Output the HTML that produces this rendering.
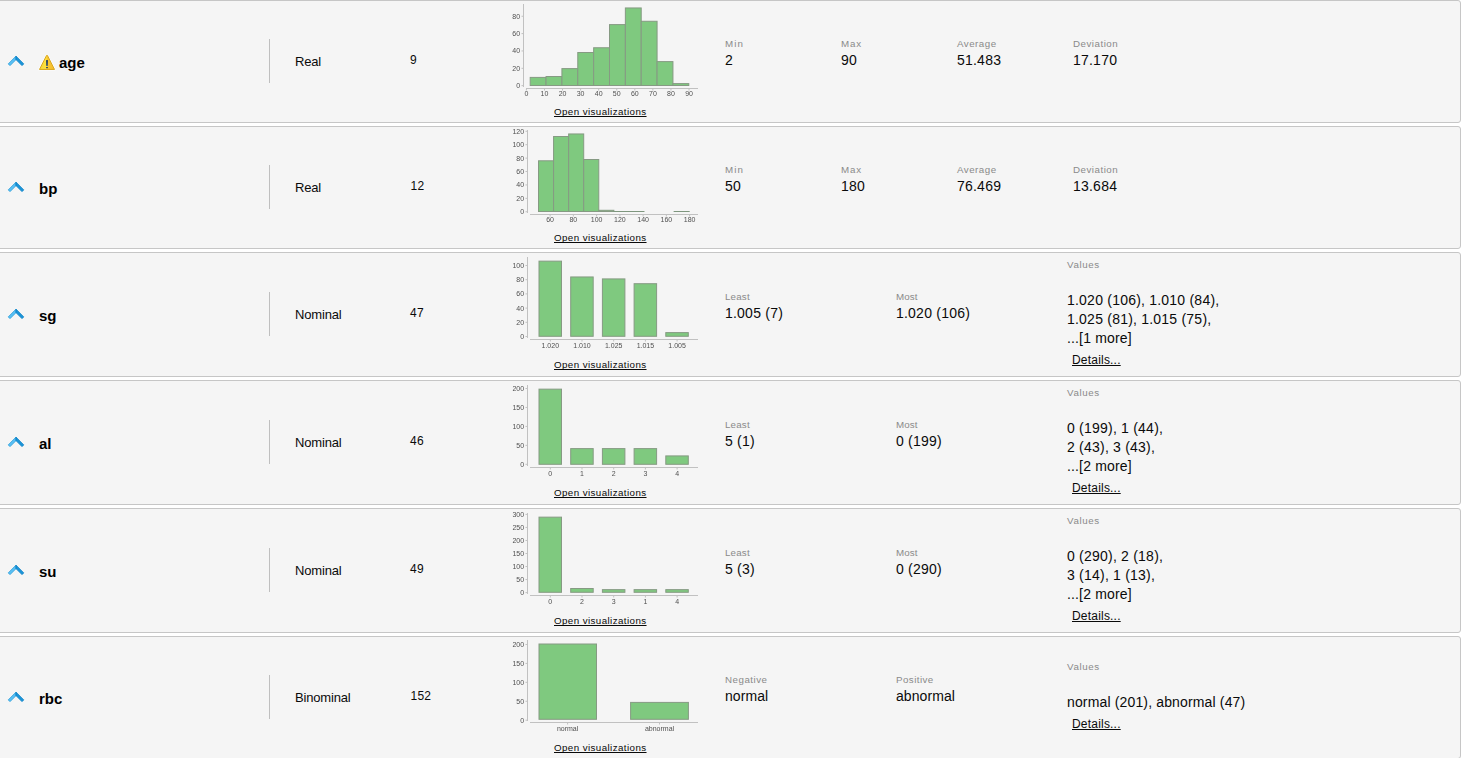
<!DOCTYPE html>
<html><head><meta charset="utf-8"><title>Statistics</title><style>
html,body{margin:0;padding:0;background:#fff;}
body{width:1462px;height:758px;overflow:hidden;position:relative;font-family:"Liberation Sans",sans-serif;}
.row{position:absolute;left:-4px;width:1465px;box-sizing:border-box;background:#f5f5f5;border:1px solid #c6c6c6;border-radius:3px;}
.row>*{margin-left:3px;margin-top:-1px;}
.t{position:absolute;white-space:nowrap;text-decoration-skip-ink:none;}
.ic,.ch{position:absolute;overflow:visible;}

.sep{position:absolute;left:269px;width:1px;height:44px;background:#bfbfbf;}
.tk{font-family:"Liberation Sans",sans-serif;font-size:7px;fill:#505050;}
.ch{will-change:transform;}
</style></head><body>
<div class="row" style="top:0px;height:123px">
<svg class="ic" width="18" height="12" viewBox="0 0 18 12" style="left:7px;top:55px"><path d="M9 1.2L1.3 8.9L3 10.6L9 4.6Z" fill="#58c1f6" stroke="#2d9ed9" stroke-width="0.9" stroke-linejoin="round"/><path d="M9 1.2L16.7 8.9L15 10.6L9 4.6Z" fill="#1893d8" stroke="#0d82c6" stroke-width="0.9" stroke-linejoin="round"/></svg>
<svg class="ic" width="20" height="19" viewBox="37 53 20 19" style="left:37px;top:53px"><defs><linearGradient id="wg" x1="0" x2="1" y1="0" y2="0"><stop offset="0" stop-color="#f2d63a"/><stop offset="0.45" stop-color="#ffe13c"/><stop offset="0.5" stop-color="#fbc832"/><stop offset="1" stop-color="#f3bb2c"/></linearGradient><linearGradient id="we" x1="0" x2="0" y1="0" y2="1"><stop offset="0" stop-color="#2c4568"/><stop offset="1" stop-color="#5b6a66"/></linearGradient></defs><path d="M47 55.2L54.7 69.5H39.3Z" fill="none" stroke="#ffffff" stroke-opacity="0.55" stroke-width="2.4" stroke-linejoin="round"/><path d="M46.6 55.4H47.4L54.5 69.45H39.5Z" fill="url(#wg)" stroke="#d9a61c" stroke-width="1" stroke-linejoin="round"/><rect x="46" y="60.1" width="2" height="5.8" fill="url(#we)"/><rect x="46" y="67" width="2" height="1.2" rx="0.4" fill="#2c4566"/></svg>
<div class="t" style="left:59px;top:54px;font-size:15px;line-height:17px;color:#000;font-weight:bold;">age</div>
<div class="sep" style="top:39px"></div>
<div class="t" style="left:295px;top:54px;font-size:13px;line-height:15px;color:#0a0a0a;letter-spacing:-0.17px;">Real</div>
<div class="t" style="left:410.1px;top:53px;font-size:12px;line-height:14px;color:#0a0a0a;letter-spacing:0.2px;">9</div>
<svg class="ch" width="220" height="100" viewBox="500 0 220 100" style="left:500px;top:0px"><path d="M523.5 4V87M526 88.5H698" stroke="#c1c1c1" stroke-width="1" fill="none"/><path d="M521.5 85.65H523M521.5 68.30H523M521.5 50.95H523M521.5 33.60H523M521.5 16.25H523M526.40 89V90.5M544.47 89V90.5M562.54 89V90.5M580.61 89V90.5M598.68 89V90.5M616.75 89V90.5M634.82 89V90.5M652.89 89V90.5M670.96 89V90.5M689.03 89V90.5" stroke="#c1c1c1" stroke-width="1" fill="none"/><g class="tk"><text x="520.1" y="88.10" text-anchor="end">0</text><text x="520.1" y="70.75" text-anchor="end">20</text><text x="520.1" y="53.40" text-anchor="end">40</text><text x="520.1" y="36.05" text-anchor="end">60</text><text x="520.1" y="18.70" text-anchor="end">80</text><text x="526.40" y="96.30" text-anchor="middle">0</text><text x="544.47" y="96.30" text-anchor="middle">10</text><text x="562.54" y="96.30" text-anchor="middle">20</text><text x="580.61" y="96.30" text-anchor="middle">30</text><text x="598.68" y="96.30" text-anchor="middle">40</text><text x="616.75" y="96.30" text-anchor="middle">50</text><text x="634.82" y="96.30" text-anchor="middle">60</text><text x="652.89" y="96.30" text-anchor="middle">70</text><text x="670.96" y="96.30" text-anchor="middle">80</text><text x="689.03" y="96.30" text-anchor="middle">90</text></g><rect x="530.20" y="77.40" width="15.86" height="8.10" fill="#7fc97f" stroke="#869a83" stroke-width="1"/><rect x="546.06" y="76.50" width="15.86" height="9.00" fill="#7fc97f" stroke="#869a83" stroke-width="1"/><rect x="561.92" y="68.60" width="15.86" height="16.90" fill="#7fc97f" stroke="#869a83" stroke-width="1"/><rect x="577.78" y="52.50" width="15.86" height="33.00" fill="#7fc97f" stroke="#869a83" stroke-width="1"/><rect x="593.64" y="47.75" width="15.86" height="37.75" fill="#7fc97f" stroke="#869a83" stroke-width="1"/><rect x="609.50" y="24.60" width="15.86" height="60.90" fill="#7fc97f" stroke="#869a83" stroke-width="1"/><rect x="625.36" y="7.95" width="15.86" height="77.55" fill="#7fc97f" stroke="#869a83" stroke-width="1"/><rect x="641.22" y="21.27" width="15.86" height="64.23" fill="#7fc97f" stroke="#869a83" stroke-width="1"/><rect x="657.08" y="61.60" width="15.86" height="23.90" fill="#7fc97f" stroke="#869a83" stroke-width="1"/><rect x="672.94" y="83.60" width="15.86" height="1.90" fill="#7fc97f" stroke="#869a83" stroke-width="1"/></svg>
<div class="t" style="left:554px;top:106px;font-size:9.75px;line-height:11px;color:#0a0a0a;letter-spacing:0.42px;text-decoration:underline;">Open visualizations</div>
<div class="t" style="left:725px;top:38px;font-size:9.75px;line-height:11px;color:#8a8a8a;letter-spacing:1.1px;">Min</div>
<div class="t" style="left:725px;top:52px;font-size:14px;line-height:16px;color:#0a0a0a;letter-spacing:0.22px;">2</div>
<div class="t" style="left:841px;top:38px;font-size:9.75px;line-height:11px;color:#8a8a8a;letter-spacing:0.85px;">Max</div>
<div class="t" style="left:841px;top:52px;font-size:14px;line-height:16px;color:#0a0a0a;letter-spacing:0.22px;">90</div>
<div class="t" style="left:957px;top:38px;font-size:9.75px;line-height:11px;color:#8a8a8a;letter-spacing:0.5px;">Average</div>
<div class="t" style="left:957px;top:52px;font-size:14px;line-height:16px;color:#0a0a0a;letter-spacing:0.22px;">51.483</div>
<div class="t" style="left:1073px;top:38px;font-size:9.75px;line-height:11px;color:#8a8a8a;letter-spacing:0.5px;">Deviation</div>
<div class="t" style="left:1073px;top:52px;font-size:14px;line-height:16px;color:#0a0a0a;letter-spacing:0.22px;">17.170</div>
</div>
<div class="row" style="top:126px;height:123px">
<svg class="ic" width="18" height="12" viewBox="0 0 18 12" style="left:7px;top:55px"><path d="M9 1.2L1.3 8.9L3 10.6L9 4.6Z" fill="#58c1f6" stroke="#2d9ed9" stroke-width="0.9" stroke-linejoin="round"/><path d="M9 1.2L16.7 8.9L15 10.6L9 4.6Z" fill="#1893d8" stroke="#0d82c6" stroke-width="0.9" stroke-linejoin="round"/></svg>
<div class="t" style="left:39px;top:54px;font-size:15px;line-height:17px;color:#000;font-weight:bold;">bp</div>
<div class="sep" style="top:39px"></div>
<div class="t" style="left:295px;top:54px;font-size:13px;line-height:15px;color:#0a0a0a;letter-spacing:-0.17px;">Real</div>
<div class="t" style="left:410.6px;top:53px;font-size:12px;line-height:14px;color:#0a0a0a;letter-spacing:0.2px;">12</div>
<svg class="ch" width="220" height="100" viewBox="500 0 220 100" style="left:500px;top:0px"><path d="M527.5 4V87M530 88.5H698" stroke="#c1c1c1" stroke-width="1" fill="none"/><path d="M525.5 85.75H527M525.5 72.34H527M525.5 58.93H527M525.5 45.52H527M525.5 32.11H527M525.5 18.70H527M525.5 5.29H527M550.10 89V90.5M573.35 89V90.5M596.60 89V90.5M619.85 89V90.5M643.10 89V90.5M666.35 89V90.5M689.60 89V90.5" stroke="#c1c1c1" stroke-width="1" fill="none"/><g class="tk"><text x="524.1" y="88.20" text-anchor="end">0</text><text x="524.1" y="74.79" text-anchor="end">20</text><text x="524.1" y="61.38" text-anchor="end">40</text><text x="524.1" y="47.97" text-anchor="end">60</text><text x="524.1" y="34.56" text-anchor="end">80</text><text x="524.1" y="21.15" text-anchor="end">100</text><text x="524.1" y="7.74" text-anchor="end">120</text><text x="550.10" y="96.30" text-anchor="middle">60</text><text x="573.35" y="96.30" text-anchor="middle">80</text><text x="596.60" y="96.30" text-anchor="middle">100</text><text x="619.85" y="96.30" text-anchor="middle">120</text><text x="643.10" y="96.30" text-anchor="middle">140</text><text x="666.35" y="96.30" text-anchor="middle">160</text><text x="689.60" y="96.30" text-anchor="middle">180</text></g><rect x="538.50" y="34.80" width="15.07" height="50.70" fill="#7fc97f" stroke="#869a83" stroke-width="1"/><rect x="553.57" y="10.50" width="15.07" height="75.00" fill="#7fc97f" stroke="#869a83" stroke-width="1"/><rect x="568.64" y="7.95" width="15.07" height="77.55" fill="#7fc97f" stroke="#869a83" stroke-width="1"/><rect x="583.71" y="33.50" width="15.07" height="52.00" fill="#7fc97f" stroke="#869a83" stroke-width="1"/><rect x="598.78" y="84.30" width="15.07" height="1.20" fill="#7fc97f" stroke="#869a83" stroke-width="1"/><rect x="613.35" y="85.00" width="16.07" height="1" fill="#7e967e"/><rect x="628.42" y="85.00" width="16.07" height="1" fill="#7e967e"/><rect x="673.63" y="85.00" width="16.07" height="1" fill="#7e967e"/></svg>
<div class="t" style="left:554px;top:106px;font-size:9.75px;line-height:11px;color:#0a0a0a;letter-spacing:0.42px;text-decoration:underline;">Open visualizations</div>
<div class="t" style="left:725px;top:38px;font-size:9.75px;line-height:11px;color:#8a8a8a;letter-spacing:1.1px;">Min</div>
<div class="t" style="left:725px;top:52px;font-size:14px;line-height:16px;color:#0a0a0a;letter-spacing:0.22px;">50</div>
<div class="t" style="left:841px;top:38px;font-size:9.75px;line-height:11px;color:#8a8a8a;letter-spacing:0.85px;">Max</div>
<div class="t" style="left:841px;top:52px;font-size:14px;line-height:16px;color:#0a0a0a;letter-spacing:0.22px;">180</div>
<div class="t" style="left:957px;top:38px;font-size:9.75px;line-height:11px;color:#8a8a8a;letter-spacing:0.5px;">Average</div>
<div class="t" style="left:957px;top:52px;font-size:14px;line-height:16px;color:#0a0a0a;letter-spacing:0.22px;">76.469</div>
<div class="t" style="left:1073px;top:38px;font-size:9.75px;line-height:11px;color:#8a8a8a;letter-spacing:0.5px;">Deviation</div>
<div class="t" style="left:1073px;top:52px;font-size:14px;line-height:16px;color:#0a0a0a;letter-spacing:0.22px;">13.684</div>
</div>
<div class="row" style="top:252px;height:125px">
<svg class="ic" width="18" height="12" viewBox="0 0 18 12" style="left:7px;top:56px"><path d="M9 1.2L1.3 8.9L3 10.6L9 4.6Z" fill="#58c1f6" stroke="#2d9ed9" stroke-width="0.9" stroke-linejoin="round"/><path d="M9 1.2L16.7 8.9L15 10.6L9 4.6Z" fill="#1893d8" stroke="#0d82c6" stroke-width="0.9" stroke-linejoin="round"/></svg>
<div class="t" style="left:39px;top:55px;font-size:15px;line-height:17px;color:#000;font-weight:bold;">sg</div>
<div class="sep" style="top:40px"></div>
<div class="t" style="left:295px;top:55px;font-size:13px;line-height:15px;color:#0a0a0a;letter-spacing:-0.17px;">Nominal</div>
<div class="t" style="left:410.1px;top:54px;font-size:12px;line-height:14px;color:#0a0a0a;letter-spacing:0.2px;">47</div>
<svg class="ch" width="220" height="100" viewBox="500 0 220 100" style="left:500px;top:0px"><path d="M527.5 5V86M530 87.5H698" stroke="#c1c1c1" stroke-width="1" fill="none"/><path d="M525.5 84.50H527M525.5 70.30H527M525.5 56.10H527M525.5 41.90H527M525.5 27.70H527M525.5 13.50H527M550.30 88V89.5M582.00 88V89.5M613.70 88V89.5M645.40 88V89.5M677.10 88V89.5" stroke="#c1c1c1" stroke-width="1" fill="none"/><g class="tk"><text x="524.1" y="86.95" text-anchor="end">0</text><text x="524.1" y="72.75" text-anchor="end">20</text><text x="524.1" y="58.55" text-anchor="end">40</text><text x="524.1" y="44.35" text-anchor="end">60</text><text x="524.1" y="30.15" text-anchor="end">80</text><text x="524.1" y="15.95" text-anchor="end">100</text><text x="550.30" y="96.10" text-anchor="middle">1.020</text><text x="582.00" y="96.10" text-anchor="middle">1.010</text><text x="613.70" y="96.10" text-anchor="middle">1.025</text><text x="645.40" y="96.10" text-anchor="middle">1.015</text><text x="677.10" y="96.10" text-anchor="middle">1.005</text></g><rect x="539.00" y="9.15" width="22.50" height="75.15" fill="#7fc97f" stroke="#869a83" stroke-width="1"/><rect x="570.70" y="24.95" width="22.50" height="59.35" fill="#7fc97f" stroke="#869a83" stroke-width="1"/><rect x="602.40" y="26.90" width="22.50" height="57.40" fill="#7fc97f" stroke="#869a83" stroke-width="1"/><rect x="634.10" y="31.70" width="22.50" height="52.60" fill="#7fc97f" stroke="#869a83" stroke-width="1"/><rect x="665.80" y="80.60" width="22.50" height="3.70" fill="#7fc97f" stroke="#869a83" stroke-width="1"/></svg>
<div class="t" style="left:554px;top:107px;font-size:9.75px;line-height:11px;color:#0a0a0a;letter-spacing:0.42px;text-decoration:underline;">Open visualizations</div>
<div class="t" style="left:725px;top:39px;font-size:9.75px;line-height:11px;color:#8a8a8a;letter-spacing:0.2px;">Least</div>
<div class="t" style="left:725px;top:53px;font-size:14px;line-height:16px;color:#0a0a0a;letter-spacing:0.22px;">1.005 (7)</div>
<div class="t" style="left:896px;top:39px;font-size:9.75px;line-height:11px;color:#8a8a8a;letter-spacing:0.1px;">Most</div>
<div class="t" style="left:896px;top:53px;font-size:14px;line-height:16px;color:#0a0a0a;letter-spacing:0.22px;">1.020 (106)</div>
<div class="t" style="left:1067px;top:7px;font-size:9.75px;line-height:11px;color:#8a8a8a;letter-spacing:0.6px;">Values</div>
<div class="t" style="left:1067px;top:40px;font-size:14px;line-height:16px;color:#0a0a0a;letter-spacing:0.22px;">1.020 (106), 1.010 (84),</div>
<div class="t" style="left:1067px;top:59px;font-size:14px;line-height:16px;color:#0a0a0a;letter-spacing:0.22px;">1.025 (81), 1.015 (75),</div>
<div class="t" style="left:1067px;top:78px;font-size:14px;line-height:16px;color:#0a0a0a;letter-spacing:0.15px;">...[1 more]</div>
<div class="t" style="left:1072px;top:101px;font-size:12px;line-height:14px;color:#0a0a0a;letter-spacing:0.2px;text-decoration:underline;">Details...</div>
</div>
<div class="row" style="top:380px;height:125px">
<svg class="ic" width="18" height="12" viewBox="0 0 18 12" style="left:7px;top:56px"><path d="M9 1.2L1.3 8.9L3 10.6L9 4.6Z" fill="#58c1f6" stroke="#2d9ed9" stroke-width="0.9" stroke-linejoin="round"/><path d="M9 1.2L16.7 8.9L15 10.6L9 4.6Z" fill="#1893d8" stroke="#0d82c6" stroke-width="0.9" stroke-linejoin="round"/></svg>
<div class="t" style="left:39px;top:55px;font-size:15px;line-height:17px;color:#000;font-weight:bold;">al</div>
<div class="sep" style="top:40px"></div>
<div class="t" style="left:295px;top:55px;font-size:13px;line-height:15px;color:#0a0a0a;letter-spacing:-0.17px;">Nominal</div>
<div class="t" style="left:410.1px;top:54px;font-size:12px;line-height:14px;color:#0a0a0a;letter-spacing:0.2px;">46</div>
<svg class="ch" width="220" height="100" viewBox="500 0 220 100" style="left:500px;top:0px"><path d="M527.5 5V86M530 87.5H698" stroke="#c1c1c1" stroke-width="1" fill="none"/><path d="M525.5 84.30H527M525.5 65.35H527M525.5 46.40H527M525.5 27.45H527M525.5 8.50H527M550.30 88V89.5M582.00 88V89.5M613.70 88V89.5M645.40 88V89.5M677.10 88V89.5" stroke="#c1c1c1" stroke-width="1" fill="none"/><g class="tk"><text x="524.1" y="86.75" text-anchor="end">0</text><text x="524.1" y="67.80" text-anchor="end">50</text><text x="524.1" y="48.85" text-anchor="end">100</text><text x="524.1" y="29.90" text-anchor="end">150</text><text x="524.1" y="10.95" text-anchor="end">200</text><text x="550.30" y="96.10" text-anchor="middle">0</text><text x="582.00" y="96.10" text-anchor="middle">1</text><text x="613.70" y="96.10" text-anchor="middle">2</text><text x="645.40" y="96.10" text-anchor="middle">3</text><text x="677.10" y="96.10" text-anchor="middle">4</text></g><rect x="539.00" y="9.15" width="22.50" height="75.15" fill="#7fc97f" stroke="#869a83" stroke-width="1"/><rect x="570.70" y="68.60" width="22.50" height="15.70" fill="#7fc97f" stroke="#869a83" stroke-width="1"/><rect x="602.40" y="68.60" width="22.50" height="15.70" fill="#7fc97f" stroke="#869a83" stroke-width="1"/><rect x="634.10" y="68.60" width="22.50" height="15.70" fill="#7fc97f" stroke="#869a83" stroke-width="1"/><rect x="665.80" y="75.90" width="22.50" height="8.40" fill="#7fc97f" stroke="#869a83" stroke-width="1"/></svg>
<div class="t" style="left:554px;top:107px;font-size:9.75px;line-height:11px;color:#0a0a0a;letter-spacing:0.42px;text-decoration:underline;">Open visualizations</div>
<div class="t" style="left:725px;top:39px;font-size:9.75px;line-height:11px;color:#8a8a8a;letter-spacing:0.2px;">Least</div>
<div class="t" style="left:725px;top:53px;font-size:14px;line-height:16px;color:#0a0a0a;letter-spacing:0.22px;">5 (1)</div>
<div class="t" style="left:896px;top:39px;font-size:9.75px;line-height:11px;color:#8a8a8a;letter-spacing:0.1px;">Most</div>
<div class="t" style="left:896px;top:53px;font-size:14px;line-height:16px;color:#0a0a0a;letter-spacing:0.22px;">0 (199)</div>
<div class="t" style="left:1067px;top:7px;font-size:9.75px;line-height:11px;color:#8a8a8a;letter-spacing:0.6px;">Values</div>
<div class="t" style="left:1067px;top:40px;font-size:14px;line-height:16px;color:#0a0a0a;letter-spacing:0.22px;">0 (199), 1 (44),</div>
<div class="t" style="left:1067px;top:59px;font-size:14px;line-height:16px;color:#0a0a0a;letter-spacing:0.22px;">2 (43), 3 (43),</div>
<div class="t" style="left:1067px;top:78px;font-size:14px;line-height:16px;color:#0a0a0a;letter-spacing:0.15px;">...[2 more]</div>
<div class="t" style="left:1072px;top:101px;font-size:12px;line-height:14px;color:#0a0a0a;letter-spacing:0.2px;text-decoration:underline;">Details...</div>
</div>
<div class="row" style="top:508px;height:125px">
<svg class="ic" width="18" height="12" viewBox="0 0 18 12" style="left:7px;top:56px"><path d="M9 1.2L1.3 8.9L3 10.6L9 4.6Z" fill="#58c1f6" stroke="#2d9ed9" stroke-width="0.9" stroke-linejoin="round"/><path d="M9 1.2L16.7 8.9L15 10.6L9 4.6Z" fill="#1893d8" stroke="#0d82c6" stroke-width="0.9" stroke-linejoin="round"/></svg>
<div class="t" style="left:39px;top:55px;font-size:15px;line-height:17px;color:#000;font-weight:bold;">su</div>
<div class="sep" style="top:40px"></div>
<div class="t" style="left:295px;top:55px;font-size:13px;line-height:15px;color:#0a0a0a;letter-spacing:-0.17px;">Nominal</div>
<div class="t" style="left:410.1px;top:54px;font-size:12px;line-height:14px;color:#0a0a0a;letter-spacing:0.2px;">49</div>
<svg class="ch" width="220" height="100" viewBox="500 0 220 100" style="left:500px;top:0px"><path d="M527.5 5V86M530 87.5H698" stroke="#c1c1c1" stroke-width="1" fill="none"/><path d="M525.5 84.60H527M525.5 71.56H527M525.5 58.53H527M525.5 45.49H527M525.5 32.46H527M525.5 19.42H527M525.5 6.39H527M550.30 88V89.5M582.00 88V89.5M613.70 88V89.5M645.40 88V89.5M677.10 88V89.5" stroke="#c1c1c1" stroke-width="1" fill="none"/><g class="tk"><text x="524.1" y="87.05" text-anchor="end">0</text><text x="524.1" y="74.02" text-anchor="end">50</text><text x="524.1" y="60.98" text-anchor="end">100</text><text x="524.1" y="47.95" text-anchor="end">150</text><text x="524.1" y="34.91" text-anchor="end">200</text><text x="524.1" y="21.87" text-anchor="end">250</text><text x="524.1" y="8.84" text-anchor="end">300</text><text x="550.30" y="96.10" text-anchor="middle">0</text><text x="582.00" y="96.10" text-anchor="middle">2</text><text x="613.70" y="96.10" text-anchor="middle">3</text><text x="645.40" y="96.10" text-anchor="middle">1</text><text x="677.10" y="96.10" text-anchor="middle">4</text></g><rect x="539.00" y="9.15" width="22.50" height="75.15" fill="#7fc97f" stroke="#869a83" stroke-width="1"/><rect x="570.70" y="80.50" width="22.50" height="3.80" fill="#7fc97f" stroke="#869a83" stroke-width="1"/><rect x="602.40" y="81.65" width="22.50" height="2.65" fill="#7fc97f" stroke="#869a83" stroke-width="1"/><rect x="634.10" y="81.65" width="22.50" height="2.65" fill="#7fc97f" stroke="#869a83" stroke-width="1"/><rect x="665.80" y="81.65" width="22.50" height="2.65" fill="#7fc97f" stroke="#869a83" stroke-width="1"/></svg>
<div class="t" style="left:554px;top:107px;font-size:9.75px;line-height:11px;color:#0a0a0a;letter-spacing:0.42px;text-decoration:underline;">Open visualizations</div>
<div class="t" style="left:725px;top:39px;font-size:9.75px;line-height:11px;color:#8a8a8a;letter-spacing:0.2px;">Least</div>
<div class="t" style="left:725px;top:53px;font-size:14px;line-height:16px;color:#0a0a0a;letter-spacing:0.22px;">5 (3)</div>
<div class="t" style="left:896px;top:39px;font-size:9.75px;line-height:11px;color:#8a8a8a;letter-spacing:0.1px;">Most</div>
<div class="t" style="left:896px;top:53px;font-size:14px;line-height:16px;color:#0a0a0a;letter-spacing:0.22px;">0 (290)</div>
<div class="t" style="left:1067px;top:7px;font-size:9.75px;line-height:11px;color:#8a8a8a;letter-spacing:0.6px;">Values</div>
<div class="t" style="left:1067px;top:40px;font-size:14px;line-height:16px;color:#0a0a0a;letter-spacing:0.22px;">0 (290), 2 (18),</div>
<div class="t" style="left:1067px;top:59px;font-size:14px;line-height:16px;color:#0a0a0a;letter-spacing:0.22px;">3 (14), 1 (13),</div>
<div class="t" style="left:1067px;top:78px;font-size:14px;line-height:16px;color:#0a0a0a;letter-spacing:0.15px;">...[2 more]</div>
<div class="t" style="left:1072px;top:101px;font-size:12px;line-height:14px;color:#0a0a0a;letter-spacing:0.2px;text-decoration:underline;">Details...</div>
</div>
<div class="row" style="top:636px;height:123px">
<svg class="ic" width="18" height="12" viewBox="0 0 18 12" style="left:7px;top:55px"><path d="M9 1.2L1.3 8.9L3 10.6L9 4.6Z" fill="#58c1f6" stroke="#2d9ed9" stroke-width="0.9" stroke-linejoin="round"/><path d="M9 1.2L16.7 8.9L15 10.6L9 4.6Z" fill="#1893d8" stroke="#0d82c6" stroke-width="0.9" stroke-linejoin="round"/></svg>
<div class="t" style="left:39px;top:54px;font-size:15px;line-height:17px;color:#000;font-weight:bold;">rbc</div>
<div class="sep" style="top:39px"></div>
<div class="t" style="left:295px;top:54px;font-size:13px;line-height:15px;color:#0a0a0a;letter-spacing:-0.17px;">Binominal</div>
<div class="t" style="left:410.6px;top:53px;font-size:12px;line-height:14px;color:#0a0a0a;letter-spacing:0.2px;">152</div>
<svg class="ch" width="220" height="100" viewBox="500 0 220 100" style="left:500px;top:0px"><path d="M527.5 4V85M530 86.5H698" stroke="#c1c1c1" stroke-width="1" fill="none"/><path d="M525.5 84.20H527M525.5 65.27H527M525.5 46.34H527M525.5 27.41H527M525.5 8.48H527M567.60 87V88.5M659.50 87V88.5" stroke="#c1c1c1" stroke-width="1" fill="none"/><g class="tk"><text x="524.1" y="86.65" text-anchor="end">0</text><text x="524.1" y="67.72" text-anchor="end">50</text><text x="524.1" y="48.79" text-anchor="end">100</text><text x="524.1" y="29.86" text-anchor="end">150</text><text x="524.1" y="10.93" text-anchor="end">200</text><text x="567.60" y="95.10" text-anchor="middle">normal</text><text x="659.50" y="95.10" text-anchor="middle">abnormal</text></g><rect x="539.00" y="8.00" width="57.50" height="75.30" fill="#7fc97f" stroke="#869a83" stroke-width="1"/><rect x="630.60" y="66.40" width="57.80" height="16.90" fill="#7fc97f" stroke="#869a83" stroke-width="1"/></svg>
<div class="t" style="left:554px;top:106px;font-size:9.75px;line-height:11px;color:#0a0a0a;letter-spacing:0.42px;text-decoration:underline;">Open visualizations</div>
<div class="t" style="left:725px;top:38px;font-size:9.75px;line-height:11px;color:#8a8a8a;letter-spacing:0.5px;">Negative</div>
<div class="t" style="left:725px;top:52px;font-size:14px;line-height:16px;color:#0a0a0a;letter-spacing:0.08px;">normal</div>
<div class="t" style="left:896px;top:38px;font-size:9.75px;line-height:11px;color:#8a8a8a;letter-spacing:0.45px;">Positive</div>
<div class="t" style="left:896px;top:52px;font-size:14px;line-height:16px;color:#0a0a0a;letter-spacing:0.08px;">abnormal</div>
<div class="t" style="left:1067px;top:25px;font-size:9.75px;line-height:11px;color:#8a8a8a;letter-spacing:0.6px;">Values</div>
<div class="t" style="left:1067px;top:58px;font-size:14px;line-height:16px;color:#0a0a0a;letter-spacing:0.15px;">normal (201), abnormal (47)</div>
<div class="t" style="left:1072px;top:81px;font-size:12px;line-height:14px;color:#0a0a0a;letter-spacing:0.2px;text-decoration:underline;">Details...</div>
</div>
</body></html>
